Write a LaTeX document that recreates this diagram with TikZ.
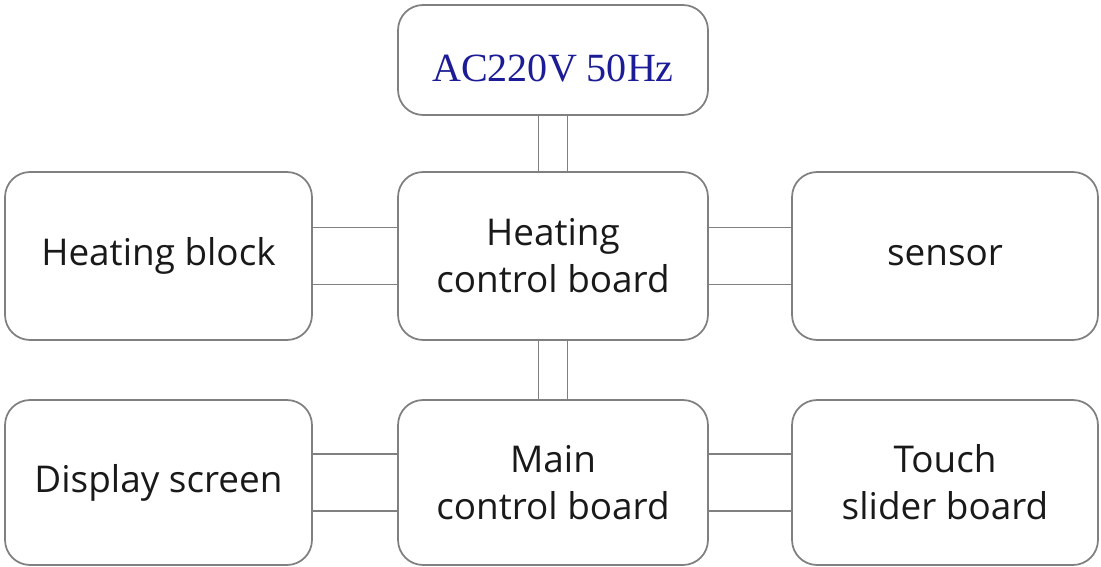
\documentclass[tikz,border=0pt]{standalone}
\usepackage{fontspec}
\setmainfont{Open Sans}
\newfontfamily\acfont{Liberation Serif}
\usetikzlibrary{positioning,calc}
\definecolor{boxgray}{HTML}{808080}
\definecolor{acblue}{HTML}{1C1C96}
\begin{document}
\begin{tikzpicture}[x=0.02cm,y=-0.02cm,
        box/.style={draw=boxgray,line width=1pt,rounded corners=0.5cm,
            minimum width=6.14cm,minimum height=3.36cm,align=center,inner sep=0pt,
            font=\fontsize{21}{26.6}\selectfont,text=black!90},
        link/.style={draw=boxgray,line width=1pt}]
        \useasboundingbox (0,0) rectangle (1101,567);
        \node[box,minimum height=2.2cm,minimum width=6.2cm,text=acblue,text height=0.88cm,text depth=0pt,
            font=\acfont\fontsize{22.8}{25}\selectfont] (ac) at (553,60) {AC220V 50Hz};
        \node[box] (hb) at (158.5,256) {Heating block};
        \node[box,minimum width=6.2cm] (hcb) at (553,256) {Heating\\control board};
        \node[box,minimum width=6.12cm] (sen) at (945,256) {sensor};
        \node[box,minimum height=3.3cm] (disp) at (158.5,482.5) {Display screen};
        \node[box,minimum height=3.3cm,minimum width=6.2cm] (mcb) at (553,482.5) {Main\\control board};
        \node[box,minimum height=3.3cm,minimum width=6.12cm] (touch) at (945,482.5) {Touch\\slider board};
        \foreach \a/\b in {hb/hcb,hcb/sen,disp/mcb,mcb/touch}
            \foreach \s in {-0.57cm,0.57cm}
                \draw[link] ([yshift=\s]\a.east) -- ([yshift=\s]\b.west);
        \foreach \a/\b in {ac/hcb,hcb/mcb}
            \foreach \s in {-0.29cm,0.29cm}
                \draw[link] ([xshift=\s]\a.south) -- ([xshift=\s]\b.north);
    \end{tikzpicture}
\end{document}
